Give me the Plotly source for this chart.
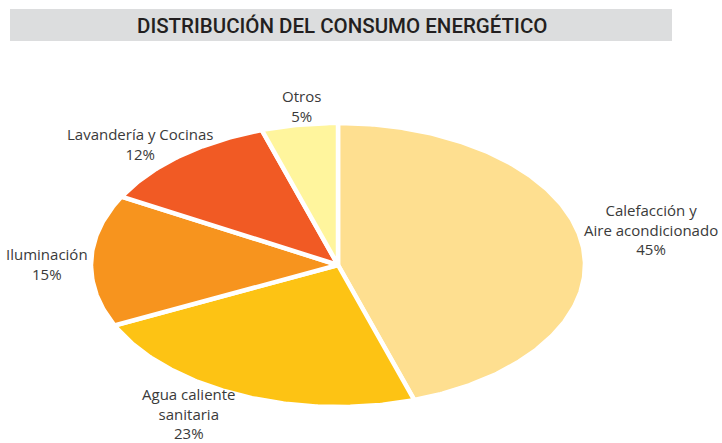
import numpy as np
import plotly.graph_objects as go

# ---- data ----
categories = ["Calefacción y<br>Aire acondicionado", "Agua caliente<br>sanitaria",
              "Iluminación", "Lavandería y Cocinas", "Otros"]
values = [45, 23, 15, 12, 5]
colors = ["#FEDF90", "#FDC314", "#F7941E", "#F15A24", "#FFF59D"]
title_text = "DISTRIBUCIÓN DEL CONSUMO ENERGÉTICO"

# ---- geometry (pixel layout) ----
W, H = 722, 443
cx_px, cy_px = 338, 265
rx_px, ry_px = 247, 142

# axes ranges so that a unit circle in data space becomes the ellipse on screen
x_range = [-cx_px / rx_px, (W - cx_px) / rx_px]
y_range = [-(H - cy_px) / ry_px, cy_px / ry_px]

fig = go.Figure()
total = sum(values)
start = 0.0
for cat, val, col in zip(categories, values, colors):
    span = 360.0 * val / total
    th = np.radians(np.linspace(start, start + span, max(int(span * 2), 8)))
    xs = np.concatenate([[0], np.sin(th), [0]])
    ys = np.concatenate([[0], np.cos(th), [0]])
    fig.add_trace(go.Scatter(x=xs, y=ys, mode="lines", fill="toself",
                             fillcolor=col, line=dict(color="white", width=4.5),
                             hoverinfo="skip", showlegend=False))
    start += span

# label placement (pixel centres of each label block)
label_pos_px = [(651, 229), (189, 413), (47, 263.5), (140, 144), (301, 106)]
for cat, val, (px, py) in zip(categories, values, label_pos_px):
    fig.add_annotation(x=(px - cx_px) / rx_px, y=(cy_px - py) / ry_px,
                       xref="x", yref="y", text=f"{cat}<br>{val}%",
                       xanchor="center", yanchor="middle",
                       showarrow=False, align="center",
                       font=dict(family="Open Sans, Lato, sans-serif", size=15, color="#3a3a3a"))

# title band
fig.add_shape(type="rect", xref="paper", yref="paper",
              x0=10 / W, x1=672 / W, y0=1 - 41 / H, y1=1 - 9 / H,
              fillcolor="#DCDDDE", line=dict(width=0), layer="below")
fig.add_annotation(xref="paper", yref="paper", x=342 / W, y=1 - 25.5 / H,
                   xanchor="center", yanchor="middle",
                   text=title_text, showarrow=False,
                   font=dict(family="Roboto, sans-serif", size=20.5, weight=500, color="#231F20"))

fig.update_layout(width=W, height=H, margin=dict(l=0, r=0, t=0, b=0),
                  paper_bgcolor="white", plot_bgcolor="white",
                  xaxis=dict(range=x_range, visible=False, fixedrange=True),
                  yaxis=dict(range=y_range, visible=False, fixedrange=True))

fig.write_html("out.html", config={"displayModeBar": False},
               post_script="document.body.style.margin='0';document.body.style.overflow='hidden';")
